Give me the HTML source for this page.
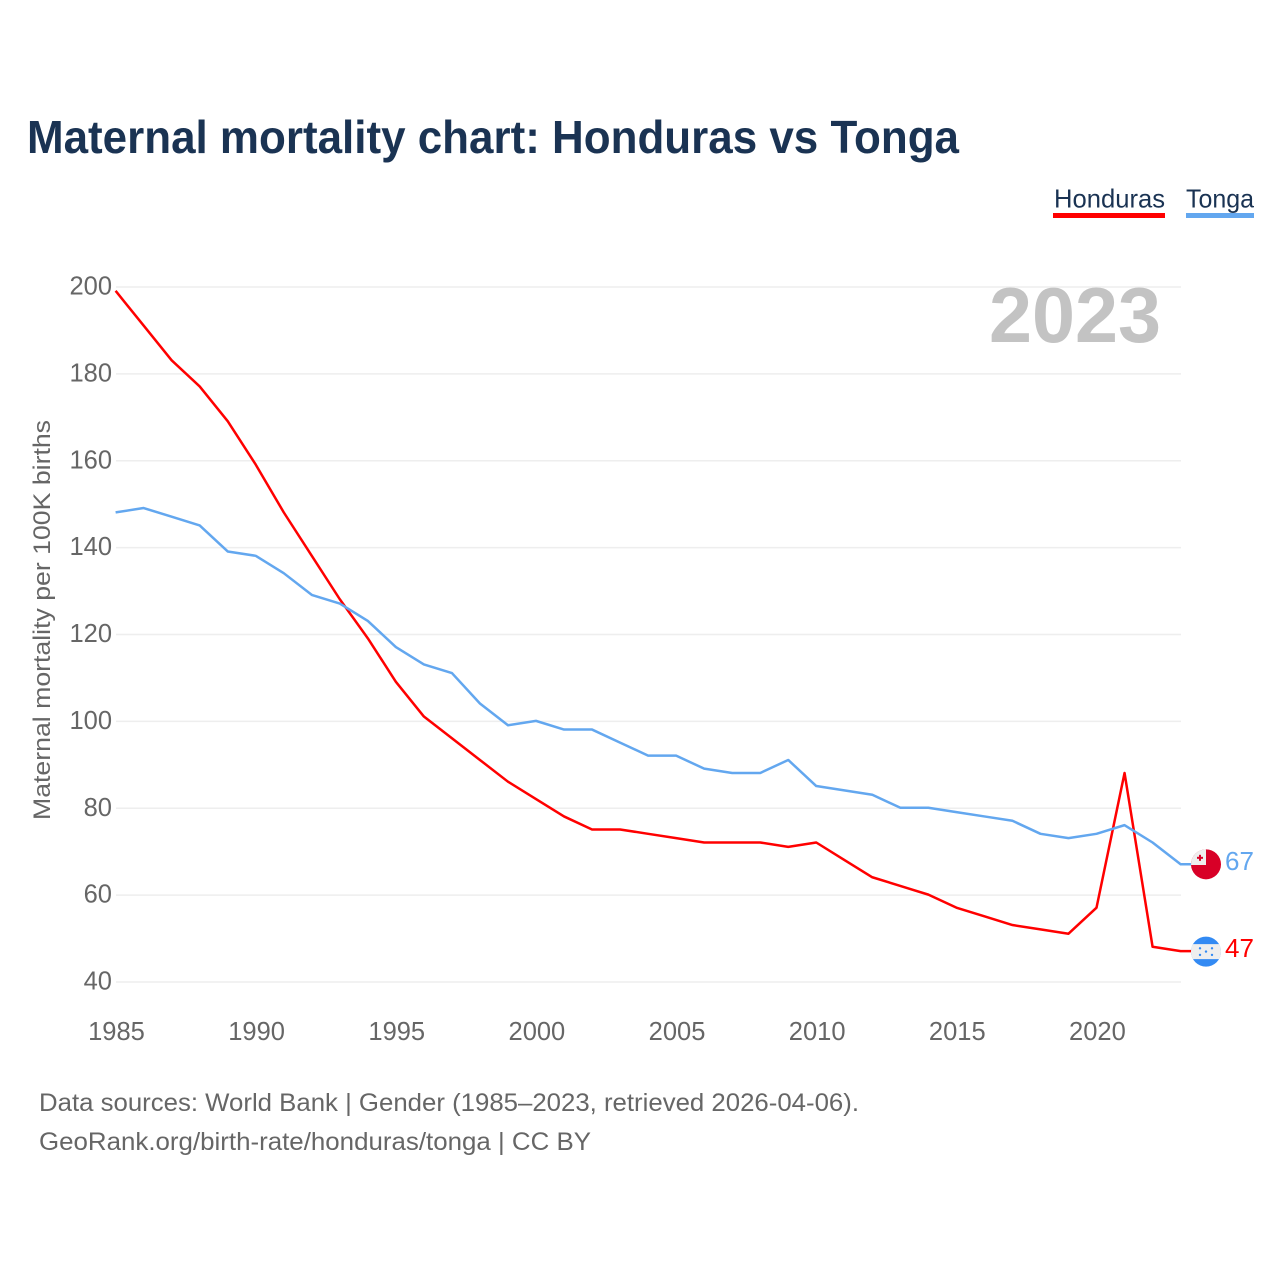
<!DOCTYPE html>
<html lang="en">
<head>
<meta charset="utf-8">
<title>Maternal mortality chart: Honduras vs Tonga</title>
<style>
html,body{margin:0;padding:0;background:#fff;width:1280px;height:1280px;overflow:hidden}
svg{display:block;font-family:"Liberation Sans",sans-serif}
</style>
</head>
<body>
<svg id="chart" xmlns="http://www.w3.org/2000/svg" width="1280" height="1280" viewBox="0 0 1280 1280">
  <rect x="0" y="0" width="1280" height="1280" fill="#ffffff"/>
  <text x="27" y="153" font-size="46" font-weight="700" fill="#1a3353" textLength="932" lengthAdjust="spacingAndGlyphs">Maternal mortality chart: Honduras vs Tonga</text>

  <g>
    <g>
      <text x="1054" y="207.5" font-size="26" fill="#1a3353" textLength="111" lengthAdjust="spacingAndGlyphs">Honduras</text>
      <rect x="1053" y="213" width="112" height="5" fill="#ff0000"/>
    </g>
    <g>
      <text x="1186" y="207.5" font-size="26" fill="#1a3353" textLength="68" lengthAdjust="spacingAndGlyphs">Tonga</text>
      <rect x="1186" y="213" width="68" height="5" fill="#63a7ef"/>
    </g>
  </g>

  <text transform="translate(50 820) rotate(-90)" font-size="24.5" fill="#666666" textLength="400" lengthAdjust="spacingAndGlyphs">Maternal mortality per 100K births</text>

  <g id="grid"></g>
  <g id="yticks"></g>
  <g id="xticks"></g>

  <text x="989" y="342" font-size="78" font-weight="700" fill="#c3c3c3" textLength="172" lengthAdjust="spacingAndGlyphs">2023</text>

  <g id="series"></g>

  <g id="flag-tonga">
    <circle cx="0" cy="0" r="15" fill="#d80027"/>
    <path d="M-15 0.7A15 15 0 0 1 0 -15V0.7Z" fill="#eeeeee"/>
    <rect x="-7" y="-9.5" width="2" height="6" fill="#d80027"/>
    <rect x="-9" y="-7.5" width="6" height="2" fill="#d80027"/>
  </g>
  <g id="flag-honduras">
    <circle cx="0" cy="0" r="15" fill="#338af3"/>
    <path d="M-13 -7.5H13A15 15 0 0 1 13 7.5H-13A15 15 0 0 1 -13 -7.5Z" fill="#eeeeee"/>
    <circle cx="-6" cy="-3.3" r="1.2" fill="#338af3"/>
    <circle cx="6" cy="-3.3" r="1.2" fill="#338af3"/>
    <circle cx="0" cy="0" r="1.2" fill="#338af3"/>
    <circle cx="-6" cy="3.3" r="1.2" fill="#338af3"/>
    <circle cx="6" cy="3.3" r="1.2" fill="#338af3"/>
  </g>
  <text id="value-tonga" x="1225" font-size="26" fill="#63a7ef"></text>
  <text id="value-honduras" x="1225" font-size="26" fill="#ff0000"></text>

  <text x="39" y="1111" font-size="25" fill="#666666" textLength="820" lengthAdjust="spacingAndGlyphs">Data sources: World Bank | Gender (1985–2023, retrieved 2026-04-06).</text>
  <text x="39" y="1150" font-size="25" fill="#666666" textLength="552" lengthAdjust="spacingAndGlyphs">GeoRank.org/birth-rate/honduras/tonga | CC BY</text>
</svg>
<script>
const years = [1985,1986,1987,1988,1989,1990,1991,1992,1993,1994,1995,1996,1997,1998,1999,2000,2001,2002,2003,2004,2005,2006,2007,2008,2009,2010,2011,2012,2013,2014,2015,2016,2017,2018,2019,2020,2021,2022,2023];
const honduras = [199,191,183,177,169,159,148,138,128,119,109,101,96,91,86,82,78,75,75,74,73,72,72,72,71,72,68,64,62,60,57,55,53,52,51,57,88,48,47];
const tonga = [148,149,147,145,139,138,134,129,127,123,117,113,111,104,99,100,98,98,95,92,92,89,88,88,91,85,84,83,80,80,79,78,77,74,73,74,76,72,67];
const yTickValues = [40,60,80,100,120,140,160,180,200];
const xTickValues = [1985,1990,1995,2000,2005,2010,2015,2020];

const NS = 'http://www.w3.org/2000/svg';
const xScale = function (v) { return 116 + (v - 1985) * (1181 - 116) / (2023 - 1985); };
const yScale = function (v) { return 982 + (v - 40) * (287 - 982) / (200 - 40); };
const seriesX = function (v) { return xScale(v) - 0.4; };
const seriesY = function (v) { return yScale(v) - 0.5; };

const gridGroup = document.getElementById('grid');
const yTickGroup = document.getElementById('yticks');
const xTickGroup = document.getElementById('xticks');
const seriesGroup = document.getElementById('series');

yTickValues.forEach(function (v) {
  const line = document.createElementNS(NS, 'line');
  
  
  line.setAttribute('x1', 116);
  line.setAttribute('x2', 1181);
  line.setAttribute('y1', yScale(v));
  line.setAttribute('y2', yScale(v));
  line.setAttribute('stroke', '#eeeeee');
  line.setAttribute('stroke-width', '1.5');
  gridGroup.appendChild(line);

  const label = document.createElementNS(NS, 'text');
  
  
  label.setAttribute('x', 112);
  label.setAttribute('y', yScale(v) + 7.5);
  label.setAttribute('text-anchor', 'end');
  label.setAttribute('font-size', '25.5');
  label.setAttribute('fill', '#666666');
  label.textContent = v;
  yTickGroup.appendChild(label);
});

xTickValues.forEach(function (v) {
  const label = document.createElementNS(NS, 'text');
  
  
  label.setAttribute('x', xScale(v) + 0.5);
  label.setAttribute('y', 1040);
  label.setAttribute('text-anchor', 'middle');
  label.setAttribute('font-size', '25.5');
  label.setAttribute('fill', '#666666');
  label.textContent = v;
  xTickGroup.appendChild(label);
});

function linePoints(values) {
  const pts = values.map(function (v, i) { return seriesX(years[i]).toFixed(2) + ',' + seriesY(v).toFixed(2); });
  const last = values[values.length - 1];
  pts.push('1192,' + seriesY(last).toFixed(2));
  return pts.join(' ');
}

const hondurasLine = document.createElementNS(NS, 'polyline');


hondurasLine.setAttribute('points', linePoints(honduras));
hondurasLine.setAttribute('fill', 'none');
hondurasLine.setAttribute('stroke', '#ff0000');
hondurasLine.setAttribute('stroke-width', '2.5');
hondurasLine.setAttribute('stroke-linejoin', 'round');
seriesGroup.appendChild(hondurasLine);

const tongaLine = document.createElementNS(NS, 'polyline');


tongaLine.setAttribute('points', linePoints(tonga));
tongaLine.setAttribute('fill', 'none');
tongaLine.setAttribute('stroke', '#63a7ef');
tongaLine.setAttribute('stroke-width', '2.5');
tongaLine.setAttribute('stroke-linejoin', 'round');
seriesGroup.appendChild(tongaLine);

const lastTonga = tonga[tonga.length - 1];
const lastHonduras = honduras[honduras.length - 1];
document.getElementById('flag-tonga').setAttribute('transform', 'translate(1206 ' + (yScale(lastTonga) - 0.4) + ')');
document.getElementById('flag-honduras').setAttribute('transform', 'translate(1206 ' + yScale(lastHonduras) + ')');
const valueTonga = document.getElementById('value-tonga');
valueTonga.setAttribute('y', yScale(lastTonga) + 5.5);
valueTonga.textContent = lastTonga;
const valueHonduras = document.getElementById('value-honduras');
valueHonduras.setAttribute('y', yScale(lastHonduras) + 5.5);
valueHonduras.textContent = lastHonduras;
</script>
</body>
</html>
